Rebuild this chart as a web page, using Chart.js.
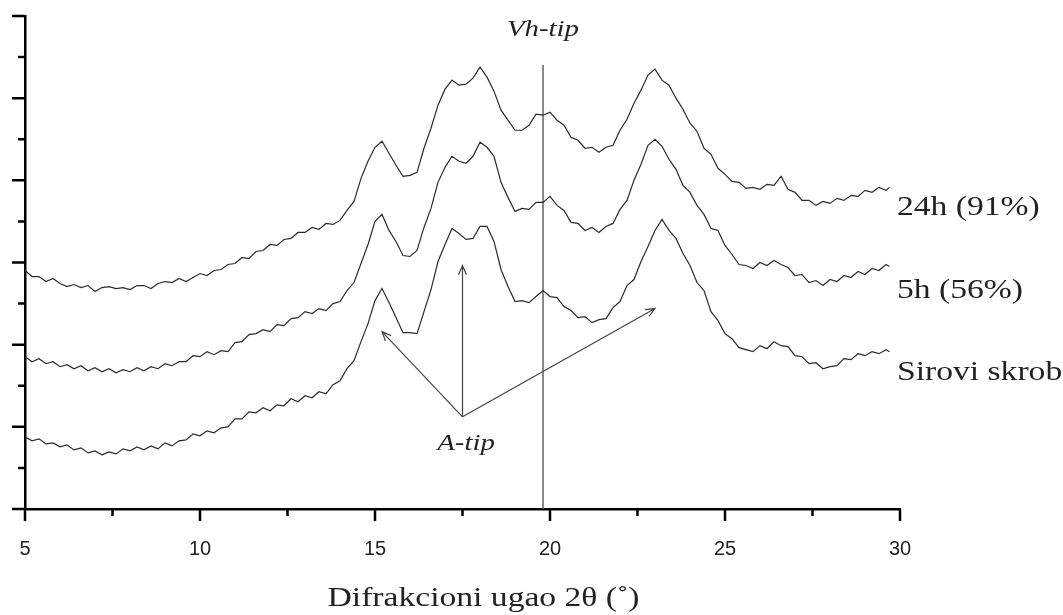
<!DOCTYPE html>
<html>
<head>
<meta charset="utf-8">
<title>XRD - Difrakcioni ugao</title>
<script src="https://cdn.jsdelivr.net/npm/chart.js@4.4.1/dist/chart.umd.min.js"></script>
<style>
    body { margin: 0; background: #fff; }
    canvas { display: block; }
</style>
</head>
<body>
<canvas id="xrdChart" width="1063" height="615"></canvas>
<script>
// Diffraction angle 2θ (°), shared by all three patterns
const angles = [
    5.0, 5.2, 5.4, 5.6, 5.8, 6.0, 6.2, 6.4, 6.6, 6.8,
    7.0, 7.2, 7.4, 7.6, 7.8, 8.0, 8.2, 8.4, 8.6, 8.8,
    9.0, 9.2, 9.4, 9.6, 9.8, 10.0, 10.2, 10.4, 10.6, 10.8,
    11.0, 11.2, 11.4, 11.6, 11.8, 12.0, 12.2, 12.4, 12.6, 12.8,
    13.0, 13.2, 13.4, 13.6, 13.8, 14.0, 14.2, 14.4, 14.6, 14.8,
    15.0, 15.2, 15.4, 15.6, 15.8, 16.0, 16.2, 16.4, 16.6, 16.8,
    17.0, 17.2, 17.4, 17.6, 17.8, 18.0, 18.2, 18.4, 18.6, 18.8,
    19.0, 19.2, 19.4, 19.6, 19.8, 20.0, 20.2, 20.4, 20.6, 20.8,
    21.0, 21.2, 21.4, 21.6, 21.8, 22.0, 22.2, 22.4, 22.6, 22.8,
    23.0, 23.2, 23.4, 23.6, 23.8, 24.0, 24.2, 24.4, 24.6, 24.8,
    25.0, 25.2, 25.4, 25.6, 25.8, 26.0, 26.2, 26.4, 26.6, 26.8,
    27.0, 27.2, 27.4, 27.6, 27.8, 28.0, 28.2, 28.4, 28.6, 28.8,
    29.0, 29.2, 29.4, 29.6, 29.7
];

// Intensity (a.u., stacked with offset) - 24h hydrolysis (91%)
const hydro24h = [
    238, 232, 232, 227, 230, 225, 222, 224, 221, 223,
    217, 221, 222, 220, 221, 219, 223, 223, 220, 225,
    227, 226, 230, 227, 231, 235, 233, 238, 239, 244,
    245, 251, 250, 257, 258, 264, 263, 269, 270, 276,
    276, 281, 279, 285, 284, 288, 298, 307, 330, 347,
    361, 367, 355, 343, 332, 333, 336, 360, 380, 403,
    419, 428, 423, 424, 430, 441, 431, 417, 398, 388,
    378, 378, 383, 394, 393, 396, 388, 383, 371, 368,
    360, 361, 356, 361, 363, 378, 389, 405, 418, 433,
    439, 428, 423, 410, 399, 385, 377, 360, 354, 340,
    334, 327, 326, 320, 321, 319, 324, 323, 332, 319,
    316, 308, 308, 303, 307, 305, 310, 308, 313, 312,
    318, 316, 321, 318, 321
];

// 5h hydrolysis (56%)
const hydro5h = [
    152, 147, 150, 145, 147, 142, 144, 140, 143, 138,
    141, 137, 140, 136, 139, 137, 141, 138, 142, 140,
    145, 143, 147, 147, 153, 152, 157, 154, 158, 157,
    166, 167, 174, 175, 179, 177, 184, 183, 190, 191,
    197, 195, 200, 198, 205, 207, 218, 226, 245, 264,
    287, 294, 278, 267, 253, 252, 258, 281, 300, 326,
    341, 352, 347, 345, 352, 366, 361, 352, 326, 311,
    297, 300, 299, 306, 306, 312, 303, 298, 286, 285,
    278, 281, 276, 282, 285, 299, 308, 328, 344, 363,
    369, 362, 349, 339, 323, 316, 303, 294, 280, 278,
    263, 254, 244, 243, 240, 246, 243, 248, 244, 241,
    233, 234, 226, 228, 223, 229, 227, 233, 231, 237,
    234, 240, 238, 244, 242
];

// Sirovi skrob (raw starch)
const rawStarch = [
    72, 68, 70, 65, 66, 62, 64, 59, 61, 56,
    58, 54, 57, 55, 60, 58, 62, 59, 63, 60,
    66, 63, 68, 69, 75, 73, 78, 76, 81, 82,
    90, 90, 97, 96, 101, 98, 104, 103, 110, 107,
    113, 111, 117, 115, 124, 128, 140, 148, 167, 185,
    208, 220, 206, 191, 176, 176, 175, 197, 219, 247,
    264, 280, 275, 269, 270, 282, 282, 267, 239, 222,
    207, 208, 206, 212, 218, 212, 211, 202, 198, 191,
    192, 186, 189, 190, 201, 207, 223, 229, 247, 262,
    278, 289, 278, 270, 255, 243, 226, 218, 197, 188,
    175, 170, 161, 159, 157, 163, 160, 167, 163, 162,
    153, 152, 145, 146, 140, 142, 143, 150, 149, 155,
    153, 157, 155, 159, 157
];

const seriesNames = ['24h (91%)', '5h (56%)', 'Sirovi skrob'];
const nameLevels = [301, 218, 136];      // intensity at which each name sits
const majorAngles = [5, 10, 15, 20, 25, 30];

// Vh-type marker line and A-type arrows (data units)
const vhAngle = 19.8;
const vhTop = 443;
const aTipApex = [17.5, 92];
const aTipTargets = [[15.2, 177], [17.5, 243], [23.0, 200]];
const aTipText = [17.6, 65];
const vhText = [19.8, 478];

const SERIF = '"Liberation Serif", "Times New Roman", serif';
const STRETCH = 1.2;

function toPoints(ys) {
    return angles.map((a, i) => ({ x: a, y: ys[i] }));
}

function stretchText(ctx, text, x, y, font, align) {
    ctx.save();
    ctx.translate(x, y);
    ctx.scale(STRETCH, 1);
    ctx.font = font;
    ctx.fillStyle = '#222';
    ctx.textAlign = align;
    ctx.textBaseline = 'middle';
    ctx.fillText(text, 0, 0);
    ctx.restore();
}

function arrow(ctx, x1, y1, x2, y2) {
    const ang = Math.atan2(y2 - y1, x2 - x1);
    const head = 10;
    ctx.beginPath();
    ctx.moveTo(x1, y1);
    ctx.lineTo(x2, y2);
    ctx.moveTo(x2 - head * Math.cos(ang - 0.4), y2 - head * Math.sin(ang - 0.4));
    ctx.lineTo(x2, y2);
    ctx.lineTo(x2 - head * Math.cos(ang + 0.4), y2 - head * Math.sin(ang + 0.4));
    ctx.stroke();
}

// ticks (long major / short minor), arrows and texts
const decorPlugin = {
    id: 'decor',
    afterDraw(chart) {
        const ctx = chart.ctx;
        const ca = chart.chartArea;
        const xs = chart.scales.x;
        const ys = chart.scales.y;

        ctx.save();
        ctx.strokeStyle = '#000';
        ctx.lineWidth = 2.5;
        ctx.beginPath();
        xs.ticks.forEach(t => {
            const px = xs.getPixelForValue(t.value);
            const major = majorAngles.includes(t.value);
            ctx.moveTo(px, ca.bottom);
            ctx.lineTo(px, ca.bottom + (major ? 12 : 7));
        });
        ys.ticks.forEach(t => {
            const py = ys.getPixelForValue(t.value);
            const major = t.value % 82 === 0;
            ctx.moveTo(ca.left, py);
            ctx.lineTo(ca.left - (major ? 13 : 7), py);
        });
        ctx.stroke();

        // A-tip arrows
        ctx.strokeStyle = '#444';
        ctx.lineWidth = 1.2;
        const ax = xs.getPixelForValue(aTipApex[0]);
        const ay = ys.getPixelForValue(aTipApex[1]);
        aTipTargets.forEach(t => {
            arrow(ctx, ax, ay, xs.getPixelForValue(t[0]), ys.getPixelForValue(t[1]));
        });
        ctx.restore();

        stretchText(ctx, 'A-tip', xs.getPixelForValue(aTipText[0]), ys.getPixelForValue(aTipText[1]),
            'italic 24px ' + SERIF, 'center');
        stretchText(ctx, 'Vh-tip', xs.getPixelForValue(vhText[0]), ys.getPixelForValue(vhText[1]),
            'italic 24px ' + SERIF, 'center');

        seriesNames.forEach((name, i) => {
            stretchText(ctx, name, ca.right - 3, ys.getPixelForValue(nameLevels[i]),
                '28px ' + SERIF, 'left');
        });

        stretchText(ctx, 'Difrakcioni ugao 2θ (˚)', xs.getPixelForValue(18.1), ca.bottom + 90,
            '28px ' + SERIF, 'center');
    }
};

const lineStyle = {
    borderColor: '#2b2b2b',
    borderWidth: 1.2,
    pointRadius: 0,
    tension: 0,
    fill: false
};

new Chart(document.getElementById('xrdChart'), {
    type: 'line',
    data: {
        datasets: [
            Object.assign({ label: seriesNames[0], data: toPoints(hydro24h) }, lineStyle),
            Object.assign({ label: seriesNames[1], data: toPoints(hydro5h) }, lineStyle),
            Object.assign({ label: seriesNames[2], data: toPoints(rawStarch) }, lineStyle),
            {
                label: 'Vh-tip',
                data: [{ x: vhAngle, y: 0 }, { x: vhAngle, y: vhTop }],
                borderColor: '#555',
                borderWidth: 1.4,
                pointRadius: 0
            }
        ]
    },
    options: {
        responsive: false,
        animation: false,
        layout: {
            padding: { left: 25, right: 163, top: 16, bottom: 44 }
        },
        plugins: {
            legend: { display: false },
            tooltip: { enabled: false }
        },
        scales: {
            x: {
                type: 'linear',
                min: 5,
                max: 30,
                // invisible tick marks only push the labels down; real ticks come from the plugin
                grid: { display: true, drawOnChartArea: false, drawTicks: true, tickLength: 18, tickColor: 'rgba(0,0,0,0)' },
                border: { display: true, color: '#000', width: 2.5 },
                ticks: {
                    stepSize: 2.5,
                    autoSkip: false,
                    maxRotation: 0,
                    padding: 10,
                    color: '#222',
                    font: { family: '"Liberation Sans", Arial, sans-serif', size: 20 },
                    callback: v => majorAngles.includes(v) ? String(v) : ''
                }
            },
            y: {
                min: 0,
                max: 492,
                grid: { display: false, drawTicks: false },
                border: { display: true, color: '#000', width: 2.5 },
                ticks: { stepSize: 41, display: false }
            }
        }
    },
    plugins: [decorPlugin]
});
</script>
</body>
</html>
